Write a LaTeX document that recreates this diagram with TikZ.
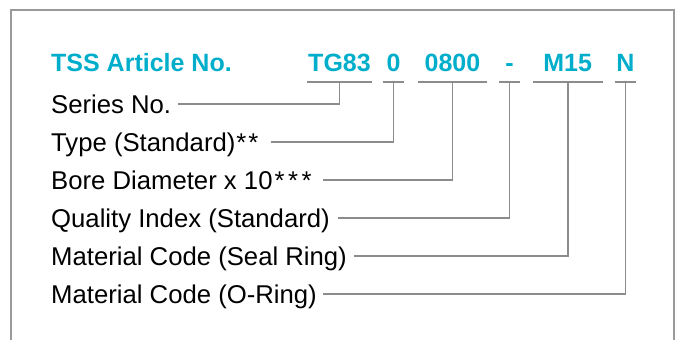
\documentclass[tikz,border=0pt]{standalone}
\usepackage{fontspec}
\setmainfont{Liberation Sans}
\definecolor{tsscyan}{HTML}{00AECB}
\definecolor{linegray}{HTML}{8C8C8C}
\definecolor{framegray}{HTML}{9A9A9A}
\begin{document}
\begin{tikzpicture}[x=1pt,y=-1pt,
  header/.style={font=\fontsize{25}{30}\selectfont\bfseries, text=tsscyan, inner sep=0pt, anchor=base west},
  code/.style={font=\fontsize{25}{30}\selectfont\bfseries, text=tsscyan, inner sep=0pt, text height=18pt, text depth=10.5pt, anchor=base},
  rowtext/.style={font=\fontsize{25.7}{30}\selectfont, inner sep=0pt, text height=18.4pt, text depth=0pt, anchor=west},
  uline/.style={draw=linegray, line width=2.5pt},
  conn/.style={draw=linegray, line width=1.6pt},
  frameline/.style={draw=framegray, line width=2pt}
]
\useasboundingbox (0,0) rectangle (678,340);
\draw[frameline] (11.3,341) -- (11.3,9.7) -- (674.3,9.7) -- (674.3,341);

\node[header] (hd) at (51,71.5) {TSS Article No.};

\node[code, minimum width=65pt] (c1) at (339.5,71.5) {TG83};
\node[code, minimum width=21.3pt] (c2) at (393.5,71.5) {0};
\node[code, minimum width=69pt] (c3) at (452.5,71.5) {0800};
\node[code, minimum width=21pt] (c4) at (509.5,71.5) {-};
\node[code, minimum width=70pt] (c5) at (567.7,71.5) {M15};
\node[code, minimum width=21pt] (c6) at (625.5,71.5) {N};

\foreach \c in {c1,c2,c3,c4,c5,c6}
  \draw[uline] (\c.south west) -- (\c.south east);

\node[rowtext] (t1) at (51,104) {Series No.};
\node[rowtext] (t2) at (51,142) {Type (Standard)\kern1pt*\kern2pt*};
\node[rowtext] (t3) at (51,180) {Bore Diameter x 10\kern2pt*\kern3.5pt*\kern3.5pt*};
\node[rowtext] (t4) at (51,218) {Quality Index (Standard)};
\node[rowtext] (t5) at (51,256) {Material Code (Seal Ring)};
\node[rowtext] (t6) at (51,294) {Material Code (O-Ring)};

\draw[conn, shorten <=7pt] (t1.east) -| (c1.south);
\draw[conn, shorten <=12pt] (t2.east) -| (c2.south);
\draw[conn, shorten <=11pt] (t3.east) -| (c3.south);
\draw[conn, shorten <=8pt] (t4.east) -| (c4.south);
\draw[conn, shorten <=7pt] (t5.east) -| (c5.south);
\draw[conn, shorten <=6pt] (t6.east) -| (c6.south);
\end{tikzpicture}
\end{document}
